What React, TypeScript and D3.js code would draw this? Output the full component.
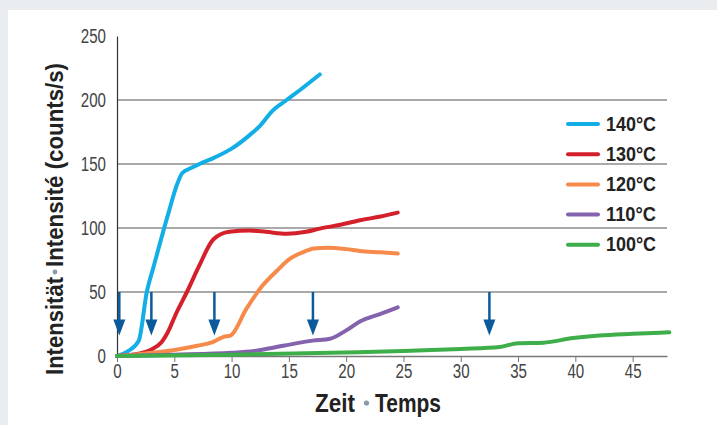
import React, { useEffect, useRef } from 'react'
import * as d3 from 'd3'

// time (min) / intensity (counts/s) pairs
const t140 = [0, 1, 1.9, 2.6, 3.2, 4.5, 5.2, 5.7, 6.5, 7.2, 8.5, 10, 11.5, 12.5, 13.5, 14.8, 16, 17.7]
const v140 = [0, 4, 12, 50, 70, 112, 133, 143, 147, 150, 155, 162, 172, 180, 191, 200, 208, 220]
const t130 = [0, 2, 3, 3.9, 4.4, 5.2, 6.1, 7.2, 8.4, 9.8, 11.6, 13, 14.8, 16.5, 17.7, 19.5, 21.2, 23, 24.5]
const v130 = [0, 2, 5, 11, 18, 34, 50, 71, 91, 97, 98, 97, 95.5, 97, 99.5, 102.5, 106, 109, 112]
const t120 = [0, 2.5, 4.9, 7, 8.4, 9.3, 9.9, 11.3, 12.7, 14, 15.1, 16.2, 17.2, 18.4, 20, 21.2, 23, 24.5]
const v120 = [0, 2, 4.5, 8, 11, 15, 16, 37, 55, 67, 76, 81, 84, 84.6, 83.5, 82, 81, 80]
const t110 = [0, 5, 10, 12, 14.5, 17.1, 18.6, 20, 21.2, 23, 24.5]
const v110 = [0, 1, 2.5, 4, 8, 12, 13.5, 20, 27, 33, 38]
const t100 = [0, 10, 21, 25, 30, 33.4, 35, 37.2, 39.8, 42.1, 45, 48.2]
const v100 = [0, 1, 3, 4, 5.5, 7, 10, 10.4, 14, 16, 17.3, 18.5]

const seriesNames = ['140°C', '130°C', '120°C', '110°C', '100°C']
const seriesColors = ['#14aee6', '#d4202a', '#f58a4b', '#8462ad', '#3dae49']
const seriesT = [t140, t130, t120, t110, t100]
const seriesV = [v140, v130, v120, v110, v100]

const arrowTimes = [0.2, 3, 8.5, 17.1, 32.5]
const xTicks = [0, 5, 10, 15, 20, 25, 30, 35, 40, 45]
const yTicks = [0, 50, 100, 150, 200, 250]

const W = 717, H = 425
const FONT = '"Liberation Sans", Arial, sans-serif'

export default function App() {
  const ref = useRef<SVGSVGElement>(null)

  useEffect(() => {
    const svg = d3.select(ref.current)
    svg.selectAll('*').remove()

    const x = d3.scaleLinear().domain([0, 48]).range([117, 667])
    const y = d3.scaleLinear().domain([0, 250]).range([356, 36])

    // background and panel
    svg.append('rect').attr('width', W).attr('height', H).attr('fill', '#e9edf0')
    svg.append('rect').attr('x', 8).attr('y', 10).attr('width', W - 8).attr('height', H - 10).attr('fill', '#fff')

    // grid lines
    svg.append('g').selectAll('line').data(yTicks.filter(d => d > 0 && d < 250)).enter()
      .append('line')
      .attr('x1', x(0)).attr('x2', x(48))
      .attr('y1', d => y(d)).attr('y2', d => y(d))
      .attr('stroke', '#555').attr('stroke-width', 1.2)

    // x axis
    const xAxis = svg.append('g').attr('transform', 'translate(0,' + y(0) + ')')
      .call(d3.axisBottom(x).tickValues(xTicks).tickSize(6).tickSizeOuter(0))
    xAxis.select('.domain').attr('stroke', '#777').attr('stroke-width', 1.5)
    xAxis.selectAll('line').attr('stroke', '#777')
    xAxis.selectAll('text')
      .attr('font-family', FONT).attr('font-size', 20).attr('fill', '#444')
      .attr('y', 22).attr('dy', 0)
      .attr('textLength', (d: any) => String(d).length * 8.4)
      .attr('lengthAdjust', 'spacingAndGlyphs')

    // y axis
    const yAxis = svg.append('g').attr('transform', 'translate(' + x(0) + ',0)')
      .call(d3.axisLeft(y).tickValues(yTicks).tickSize(0).tickPadding(11))
    yAxis.select('.domain').attr('stroke', '#333').attr('stroke-width', 1.2)
    yAxis.selectAll('text')
      .attr('font-family', FONT).attr('font-size', 20).attr('fill', '#444')
      .attr('textLength', (d: any) => String(d).length * 8.4)
      .attr('lengthAdjust', 'spacingAndGlyphs')

    // lines
    const line = d3.line<[number, number]>()
      .x(d => x(d[0])).y(d => y(d[1]))
      .curve(d3.curveMonotoneX)
    seriesNames.forEach((name, i) => {
      const pts = seriesT[i].map((t, j) => [t, seriesV[i][j]] as [number, number])
      svg.append('path')
        .attr('d', line(pts))
        .attr('fill', 'none')
        .attr('stroke', seriesColors[i])
        .attr('stroke-width', 4)
        .attr('stroke-linecap', 'round')
        .attr('stroke-linejoin', 'round')
    })

    // arrows
    const arrows = svg.append('g')
    arrowTimes.forEach(t => {
      const ax = x(t)
      const top = y(50)
      const tip = y(16)
      arrows.append('line')
        .attr('x1', ax).attr('x2', ax).attr('y1', top).attr('y2', tip - 10)
        .attr('stroke', '#0b5a9c').attr('stroke-width', 2.5)
      arrows.append('path')
        .attr('d', `M${ax - 6},${tip - 16} L${ax + 6},${tip - 16} L${ax},${tip} Z`)
        .attr('fill', '#0b5a9c')
    })

    // legend
    const legend = svg.append('g')
    seriesNames.forEach((name, i) => {
      const ly = 124 + i * 30.2
      legend.append('line')
        .attr('x1', 568).attr('x2', 598).attr('y1', ly).attr('y2', ly)
        .attr('stroke', seriesColors[i]).attr('stroke-width', 4).attr('stroke-linecap', 'round')
      legend.append('text')
        .attr('x', 606).attr('y', ly + 6.5)
        .attr('font-family', FONT).attr('font-weight', 'bold').attr('font-size', 21)
        .attr('fill', '#222')
        .attr('textLength', 50).attr('lengthAdjust', 'spacingAndGlyphs')
        .text(name)
    })

    // axis titles
    const title = (sel: any, str: string, len: number) =>
      sel.append('text')
        .attr('font-family', FONT).attr('font-weight', 'bold').attr('font-size', 25)
        .attr('fill', '#222')
        .attr('textLength', len).attr('lengthAdjust', 'spacingAndGlyphs')
        .text(str)

    title(svg, 'Zeit', 40).attr('x', 315).attr('y', 412)
    svg.append('circle').attr('cx', 366.5).attr('cy', 403).attr('r', 2.6).attr('fill', '#8a9aa8')
    title(svg, 'Temps', 66).attr('x', 375).attr('y', 412)

    const yt = svg.append('g').attr('transform', 'translate(63,0) rotate(-90)')
    title(yt, 'Intensität', 98).attr('x', -375).attr('y', 0).attr('font-size', 23)
    yt.append('circle').attr('cx', -272).attr('cy', -8).attr('r', 2.4).attr('fill', '#8a9aa8')
    title(yt, 'Intensité (counts/s)', 204).attr('x', -267).attr('y', 0).attr('font-size', 23)
  }, [])

  return (
    <svg ref={ref} width={W} height={H}
      style={{ position: 'absolute', left: 0, top: 0, display: 'block' }} />
  )
}
